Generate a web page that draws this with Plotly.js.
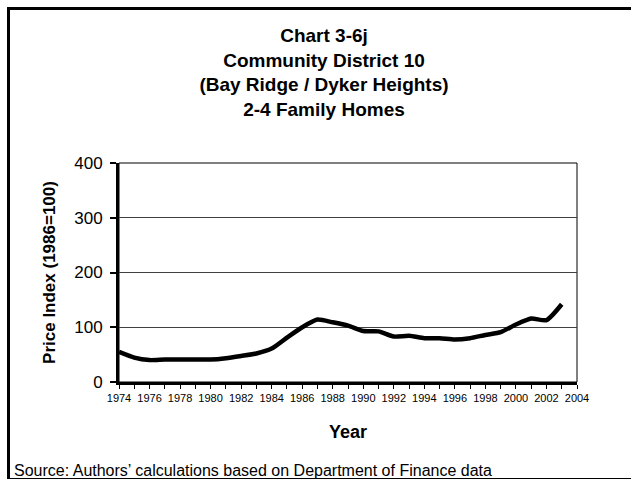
<!DOCTYPE html>
<html>
<head>
<meta charset="utf-8">
<script src="https://cdn.plot.ly/plotly-3.0.1.min.js"></script>
<style>html,body{margin:0;padding:0;background:#fff;}#chart{width:631px;height:479px;}</style>
</head>
<body>
<div id="chart"></div>
<script>
// ---- data ----
const years = [1974,1975,1976,1977,1978,1979,1980,1981,1982,1983,1984,1985,1986,1987,1988,1989,1990,1991,1992,1993,1994,1995,1996,1997,1998,1999,2000,2001,2002,2003];
const priceIndex = [55,44.5,40,41,41,41,41,43.5,47.5,52,61,81,100,114,109,103,93,92.5,83,84.5,80,80,77.5,80,86,91,105,116,113,142];
const titleLines = ["Chart 3-6j","Community District 10","(Bay Ridge / Dyker Heights)","2-4 Family Homes"];
const xTitle = "Year";
const yTitle = "Price Index (1986=100)";
const sourceNote = "Source: Authors\u2019 calculations based on Department of Finance data";

// ---- layout geometry ----
const W = 631, H = 479;
const M = {l:119, r:54, t:163, b:97};
const PW = W - M.l - M.r, PH = H - M.t - M.b;
const px = x => (x - M.l) / PW;          // pixel x -> paper x
const py = y => (H - M.b - y) / PH;      // pixel y -> paper y

const font = "Liberation Sans, Arial, sans-serif";

const trace = {
  x: years, y: priceIndex, type: 'scatter', mode: 'lines',
  line: {color: '#000', width: 4.5, shape: 'spline', smoothing: 0.6},
  hoverinfo: 'skip', showlegend: false
};

const layout = {
  width: W, height: H,
  margin: M,
  paper_bgcolor: '#fff', plot_bgcolor: '#fff',
  font: {family: font, color: '#000'},
  title: {
    text: titleLines.join('<br>'),
    font: {family: font, size: 19, color: '#000', weight: 'bold'},
    xref: 'paper', x: px(324), xanchor: 'center',
    yref: 'container', y: 1 - 42 / H, yanchor: 'middle'
  },
  xaxis: {
    range: [1974, 2004], tickmode: 'linear', tick0: 1974, dtick: 2,
    ticks: 'outside', ticklen: 4, tickwidth: 1, tickcolor: '#000',
    minor: {tickmode: 'linear', tick0: 1974, dtick: 1, ticks: 'outside', ticklen: 4, tickwidth: 1, tickcolor: '#000', showgrid: false},
    showline: true, linewidth: 3, linecolor: '#000',
    showgrid: false, zeroline: false,
    tickfont: {family: "Liberation Sans Narrow, Arial Narrow, Liberation Sans, Arial", size: 11, color: '#000'},
    title: {text: xTitle, font: {family: font, size: 18, weight: 'bold', color: '#000'}, standoff: 23}
  },
  yaxis: {
    range: [0, 400], tickmode: 'linear', tick0: 0, dtick: 100,
    ticks: 'outside', ticklen: 6, tickwidth: 2, tickcolor: '#000',
    showline: true, linewidth: 3, linecolor: '#000',
    showgrid: true, gridcolor: '#404040', gridwidth: 1, zeroline: false,
    tickfont: {family: font, size: 17, color: '#000'},
    ticklabelstandoff: 4,
    title: {text: yTitle, font: {family: font, size: 17, weight: 'bold', color: '#000'}, standoff: 15}
  },
  shapes: [
    // plot area outline (top/right)
    {type: 'rect', xref: 'paper', yref: 'paper', x0: 0, x1: 1, y0: 0, y1: 1, line: {color: '#000', width: 1}, layer: 'below'},
    // outer chart frame
    {type: 'line', xref: 'paper', yref: 'paper', x0: px(8.5), x1: px(8.5), y0: py(7), y1: py(480), line: {color: '#000', width: 3}},
    {type: 'line', xref: 'paper', yref: 'paper', x0: px(7), x1: px(640), y0: py(8.5), y1: py(8.5), line: {color: '#000', width: 3}},
    {type: 'line', xref: 'paper', yref: 'paper', x0: px(7), x1: px(640), y0: py(478.5), y1: py(478.5), line: {color: '#000', width: 1}}
  ],
  annotations: [
    {text: sourceNote, xref: 'paper', yref: 'paper', x: px(12), y: py(470), xanchor: 'left', yanchor: 'middle',
     showarrow: false, font: {family: font, size: 16, color: '#000'}}
  ]
};

Plotly.newPlot('chart', [trace], layout, {displayModeBar: false, staticPlot: true});
</script>
</body>
</html>
